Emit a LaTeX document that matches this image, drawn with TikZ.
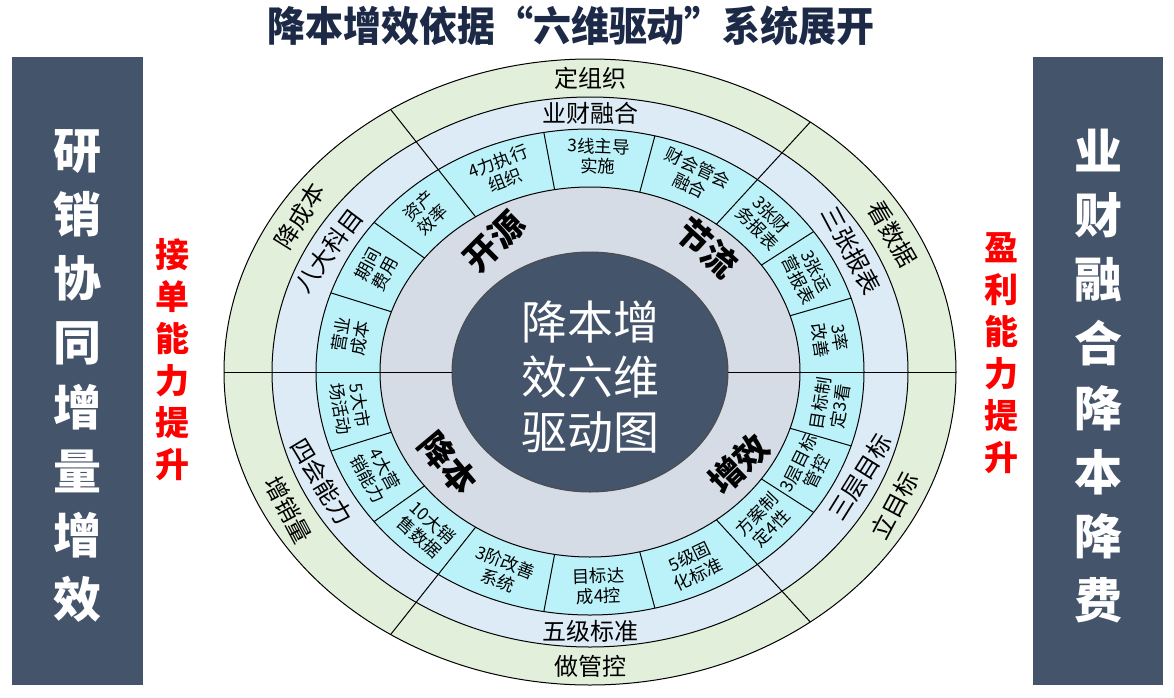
\documentclass[tikz,border=0pt]{standalone}
\usepackage{fontspec}
\setmainfont{Noto Sans CJK SC}

\definecolor{ringgreen}{HTML}{E2EFDA}
\definecolor{ringblue}{HTML}{DDEBF7}
\definecolor{ringcyan}{HTML}{BBF2F9}
\definecolor{ringgray}{HTML}{D6DCE5}
\definecolor{coreblue}{HTML}{44546A}
\definecolor{titleblue}{HTML}{1C2A48}

% point on an ellipse around the centre (590,372), y pointing down
\newcommand{\ringpt}[3]{({590+#2*cos(#1)},{372-#3*sin(#1)})}

\tikzset{
  ring/.style={draw=black, line width=0.5pt},
  cyantext/.style={font=\fontsize{8.7}{9.9}\selectfont, align=center, inner sep=0pt},
  bandtext/.style={font=\fontsize{12}{13}\selectfont, inner sep=0pt},
  graytext/.style={font=\bfseries\fontsize{17}{18}\selectfont, inner sep=0pt},
  sidetext/.style={text=white, font=\bfseries\fontsize{24}{32.1}\selectfont, align=center},
  redtext/.style={text=red, font=\bfseries\fontsize{17}{21}\selectfont, align=center},
}

\begin{document}
\begin{tikzpicture}[x=0.5pt, y=-0.5pt]
  \useasboundingbox (0,0) rectangle (1174,697);

  % Titre
  \node [text=titleblue, font=\bfseries\fontsize{19}{20}\selectfont] (title) at (571,26)
    {\scalebox{1}[1.08]{降本增效依据“六维驱动”系统展开}};

  % Panneaux latéraux
  \fill [coreblue] (12,57) rectangle (143,685);
  \node [sidetext] (lefttext) at (78,376) {研\\销\\协\\同\\增\\量\\增\\效};
  \fill [coreblue] (1033,57) rectangle (1163,685);
  \node [sidetext] (righttext) at (1098,376) {业\\财\\融\\合\\降\\本\\降\\费};
  \node [redtext] (leftred) at (172,360) {接\\单\\能\\力\\提\\升};
  \node [redtext] (rightred) at (1001,353) {盈\\利\\能\\力\\提\\升};

  % Anneaux
  \draw [ring, fill=ringgreen] (590,372) ellipse [x radius=366, y radius=313];
  \draw [ring, fill=ringblue] (590,372) ellipse [x radius=318, y radius=275];
  \draw [ring, fill=ringcyan] (590,372) ellipse [x radius=274, y radius=243];
  \draw [ring, fill=ringgray] (590,372) ellipse [x radius=210, y radius=185];
  \draw [ring, draw=black!70, fill=coreblue] (590,372) ellipse [x radius=138, y radius=120];

  % Séparations principales
  \foreach \a in {0,180}
    \draw [ring] \ringpt{\a}{138}{120} -- \ringpt{\a}{366}{313};
  \foreach \a in {53,123,-53,-123}
    \draw [ring] \ringpt{\a}{210}{185} -- \ringpt{\a}{366}{313};
  % Séparations de l'anneau cyan
  \foreach \a in {17.7,35.3,76.3,99.7,142,161,-17.7,-35.3,-76.3,-99.7,-142,-161}
    \draw [ring] \ringpt{\a}{210}{185} -- \ringpt{\a}{274}{243};

  % Texte central
  \node [text=white, font=\fontsize{23}{27.5}\selectfont, align=center] (core) at (590,377)
    {降本增\\效六维\\驱动图};

  % Anneau gris
  \node [graytext, rotate=45] (kaiyuan) at (494,241) {开源};
  \node [graytext, rotate=-42] (jieliu) at (707,248) {节流};
  \node [graytext, rotate=-50] (jiangben) at (448,463) {降本};
  \node [graytext, rotate=44] (zengxiao) at (739,464) {增效};

  % Anneau vert
  \node [bandtext] (g1) at \ringpt{90}{342}{294} {定组织};
  \node [bandtext, rotate=-60] (g2) at \ringpt{28}{342}{294} {看数据};
  \node [bandtext, rotate=62] (g3) at \ringpt{-27}{342}{294} {立目标};
  \node [bandtext] (g4) at \ringpt{-90}{342}{294} {做管控};
  \node [bandtext, rotate=-62] (g5) at \ringpt{-152}{342}{294} {增销量};
  \node [bandtext, rotate=58] (g6) at \ringpt{148}{342}{294} {降成本};

  % Anneau bleu clair
  \node [bandtext] (b1) at \ringpt{90}{296}{259} {业财融合};
  \node [bandtext, rotate=-62] (b2) at \ringpt{28}{296}{259} {三张报表};
  \node [bandtext, rotate=58] (b3) at \ringpt{-24}{296}{259} {三层目标};
  \node [bandtext] (b4) at \ringpt{-90}{296}{259} {五级标准};
  \node [bandtext, rotate=-59] (b5) at \ringpt{-155}{296}{259} {四会能力};
  \node [bandtext, rotate=53] (b6) at \ringpt{152}{296}{259} {八大科目};

  % Anneau cyan (haut puis bas)
  \foreach \a/\t [count=\i] in {8.8/{3率\\改善}, 26.5/{3张运\\营报表}, 44.2/{3张财\\务报表},
      64.7/{财会管会\\融合}, 88/{3线主导\\实施}, 111.3/{4力执行\\组织},
      132.5/{资产\\效率}, 151.5/{期间\\费用}, 170.5/{营业\\成本}}
    \node [cyantext, rotate=\a-90] (top\i) at \ringpt{\a}{243}{216} {\t};
  \foreach \a/\t [count=\i] in {-8.8/{目标制\\定3看}, -26.5/{3层目标\\管控}, -44.2/{方案制\\定4性},
      -64.7/{5级固\\化标准}, -88/{目标达\\成4控}, -111.3/{3阶改善\\系统},
      -132.5/{10大销\\售数据}, -151.5/{4大营\\销能力}, -170.5/{5大市\\场活动}}
    \node [cyantext, rotate=\a+90] (bot\i) at \ringpt{\a}{243}{214} {\t};
\end{tikzpicture}
\end{document}
